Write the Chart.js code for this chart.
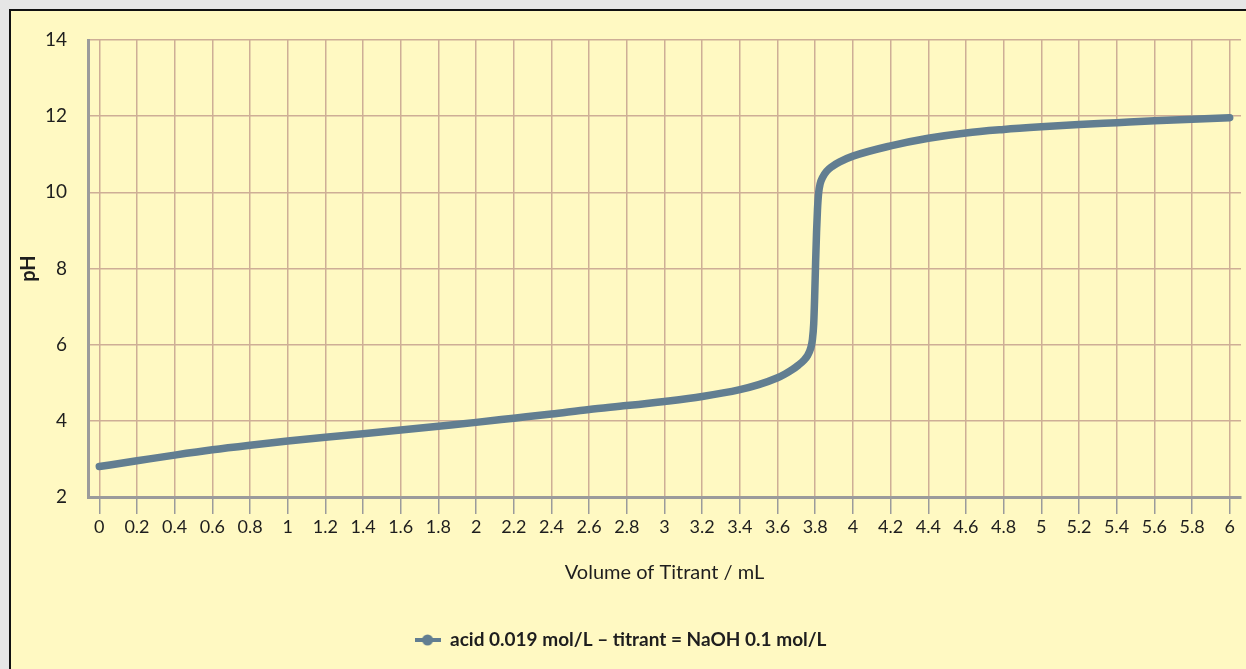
<!DOCTYPE html>
<html>
<head>
<meta charset="utf-8">
<script src="https://cdn.jsdelivr.net/npm/chart.js@4.4.1/dist/chart.umd.min.js"></script>
<style>
  html, body { margin: 0; padding: 0; width: 1246px; height: 669px; overflow: hidden; background: #e6e6e6; }
  #panel { position: absolute; left: 9px; top: 9px; width: 1237px; height: 660px; border-left: 2px solid #111; border-top: 2px solid #111; background: #fff9c2; }
  #c { position: absolute; left: 0; top: 0; }
</style>
</head>
<body>
<div id="panel"></div>
<canvas id="c" width="1246" height="669"></canvas>
<script>
// ---- data ----
const volumes = [0, 0.2, 0.4, 0.6, 0.8, 1.0, 1.2, 1.4, 1.6, 1.8, 2.0, 2.2, 2.4, 2.6, 2.8, 3.0, 3.2, 3.4, 3.5, 3.6, 3.64, 3.68, 3.71, 3.74, 3.76, 3.775, 3.785, 3.792, 3.797, 3.802, 3.807, 3.812, 3.818, 3.826, 3.84, 3.86, 3.89, 3.93, 4.0, 4.2, 4.4, 4.6, 4.8, 5.0, 5.2, 5.4, 5.6, 5.8, 6.0];
const phValues = [2.80, 2.95, 3.10, 3.24, 3.36, 3.47, 3.57, 3.66, 3.76, 3.86, 3.96, 4.07, 4.18, 4.30, 4.40, 4.51, 4.64, 4.82, 4.95, 5.13, 5.23, 5.35, 5.46, 5.59, 5.72, 5.89, 6.13, 6.55, 7.25, 8.15, 8.95, 9.55, 9.98, 10.22, 10.40, 10.55, 10.68, 10.80, 10.95, 11.22, 11.42, 11.56, 11.65, 11.72, 11.78, 11.83, 11.88, 11.92, 11.96];
const xTickValues = [0, 0.2, 0.4, 0.6, 0.8, 1, 1.2, 1.4, 1.6, 1.8, 2, 2.2, 2.4, 2.6, 2.8, 3, 3.2, 3.4, 3.6, 3.8, 4, 4.2, 4.4, 4.6, 4.8, 5, 5.2, 5.4, 5.6, 5.8, 6];
const xTickLabels = ["0", "0.2", "0.4", "0.6", "0.8", "1", "1.2", "1.4", "1.6", "1.8", "2", "2.2", "2.4", "2.6", "2.8", "3", "3.2", "3.4", "3.6", "3.8", "4", "4.2", "4.4", "4.6", "4.8", "5", "5.2", "5.4", "5.6", "5.8", "6"];
const seriesLabel = "acid 0.019 mol/L \u2013 titrant = NaOH 0.1 mol/L";
const xTitle = "Volume of Titrant / mL";
const yTitle = "pH";

const FONT = "Lato, 'DejaVu Sans Condensed', sans-serif";
const lineColor = 'rgb(98,126,145)';
const gridColor = 'rgb(206,174,150)';
const axisColor = 'rgb(155,155,155)';
const textColor = '#1e1e1e';

// legend marker: line with a round dot
const marker = document.createElement('canvas');
marker.width = 26; marker.height = 12;
(function () {
  const m = marker.getContext('2d');
  m.strokeStyle = lineColor; m.lineWidth = 4;
  m.beginPath(); m.moveTo(0, 6); m.lineTo(26, 6); m.stroke();
  m.fillStyle = lineColor;
  m.beginPath(); m.arc(13, 6, 5.5, 0, Math.PI * 2); m.fill();
})();

const points = volumes.map((v, i) => ({ x: v, y: phValues[i] }));

const PAD_BOTTOM = 9.5;
const PLOT_BOTTOM = 497;

new Chart(document.getElementById('c'), {
  type: 'line',
  data: {
    datasets: [{
      label: seriesLabel,
      data: points,
      borderColor: lineColor,
      backgroundColor: lineColor,
      borderWidth: 7.5,
      borderCapStyle: 'round',
      borderJoinStyle: 'round',
      pointRadius: 0,
      pointHoverRadius: 0,
      cubicInterpolationMode: 'monotone',
      fill: false
    }]
  },
  options: {
    responsive: false,
    animation: false,
    events: [],
    layout: { padding: { top: 40, left: 0, right: 5, bottom: PAD_BOTTOM } },
    plugins: {
      tooltip: { enabled: false },
      legend: {
        position: 'bottom',
        labels: {
          usePointStyle: true,
          pointStyle: marker,
          pointStyleWidth: 26,
          padding: 10,
          color: textColor,
          font: { family: FONT, size: 19, weight: 'bold' }
        }
      }
    },
    scales: {
      x: {
        type: 'linear',
        min: -0.06,
        max: 6.06,
        afterBuildTicks: (scale) => { scale.ticks = xTickValues.map(v => ({ value: v })); },
        afterFit: (scale) => {
          const lh = scale.chart.legend ? scale.chart.legend.height : 0;
          scale.height = 669 - PAD_BOTTOM - lh - PLOT_BOTTOM;
        },
        ticks: {
          autoSkip: false,
          maxRotation: 0,
          padding: 2,
          color: textColor,
          font: { family: FONT, size: 18 },
          callback: (value, index) => xTickLabels[index]
        },
        grid: { color: gridColor, lineWidth: 1.5, drawTicks: true, tickLength: 17, tickColor: axisColor, tickWidth: 1.5 },
        border: { display: true, color: axisColor, width: 3 },
        title: { display: true, text: xTitle, color: textColor, font: { family: FONT, size: 20 }, padding: { top: 0, bottom: 36 } }
      },
      y: {
        type: 'linear',
        min: 2,
        max: 14,
        afterFit: (scale) => { scale.width = 88; },
        ticks: { stepSize: 2, padding: 21, color: textColor, font: { family: FONT, size: 19 } },
        grid: { color: gridColor, lineWidth: 1.5, drawTicks: false },
        border: { display: true, color: axisColor, width: 3 },
        title: { display: true, text: yTitle, color: textColor, font: { family: FONT, size: 20, weight: 'bold' }, padding: { top: 17, bottom: 0 } }
      }
    }
  }
});
</script>
</body>
</html>
